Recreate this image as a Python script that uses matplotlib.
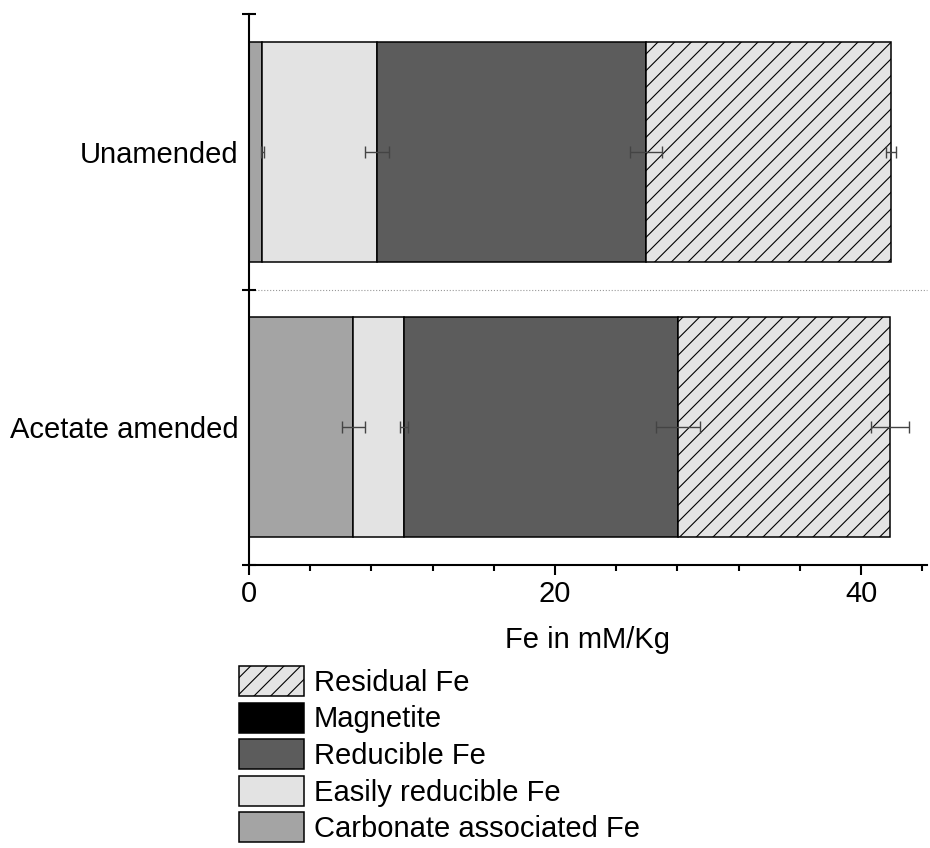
import numpy as np
import matplotlib
matplotlib.use('Agg')
import matplotlib.pyplot as plt

plt.rcParams['font.family'] = ['Liberation Sans', 'DejaVu Sans']
plt.rcParams['hatch.linewidth'] = 0.8

categories = ['Unamended', 'Acetate amended']
carbonate = [0.88, 6.83]
easily = [7.50, 3.30]
reducible = [17.58, 17.90]
magnetite = [0.0, 0.0]
residual = [15.97, 13.87]

carbonate_err = [0.12, 0.77]
easily_err = [0.79, 0.26]
reducible_err = [1.05, 1.43]
magnetite_err = [0.0, 0.0]
residual_err = [0.32, 1.24]

fig = plt.figure(figsize=(9.3, 8.48), dpi=100)
ax = fig.add_axes([0.2677, 0.3337, 0.729, 0.6498])

ypos = np.arange(len(categories)) + 0.5
left = np.zeros(len(categories))
series = [
    ('Carbonate associated Fe', carbonate, carbonate_err, '#a4a4a4', None),
    ('Easily reducible Fe', easily, easily_err, '#e3e3e3', None),
    ('Reducible Fe', reducible, reducible_err, '#5c5c5c', None),
    ('Magnetite', magnetite, magnetite_err, '#000000', None),
    ('Residual Fe', residual, residual_err, '#e4e4e4', '//'),
]
handles = []
for name, vals, errs, col, hatch in series:
    vals = np.array(vals)
    b = ax.barh(ypos, vals, left=left, height=0.8, color=col, edgecolor='black',
                linewidth=1.1, hatch=hatch, label=name, zorder=2)
    handles.append(b)
    left = left + vals
    if np.any(vals > 0):
        ax.errorbar(left, ypos, xerr=errs, fmt='none', ecolor='#444444',
                    elinewidth=1.0, capsize=4, capthick=1.0, zorder=3)

# dotted separator between groups
ax.axhline(1, color='#999999', linestyle=':', linewidth=0.8, zorder=1, clip_on=False)

ax.set_xlim(0, 44.3)
ax.set_ylim(2, 0)
ax.set_xticks([0, 20, 40])
ax.set_xticks(np.arange(0, 45, 4), minor=True)
ax.tick_params(axis='x', which='major', direction='out', length=7, width=1.5,
               labelsize=21, pad=4)
ax.tick_params(axis='x', which='minor', direction='out', length=4, width=1.5)
ax.set_yticks([0, 1, 2])
ax.set_yticklabels([])
ax.set_yticks(ypos, minor=True)
ax.set_yticklabels(categories, minor=True)
ax.tick_params(axis='y', which='major', direction='inout', length=10, width=1.5)
ax.tick_params(axis='y', which='minor', length=0, labelsize=21, pad=7.5)

for s in ['top', 'right']:
    ax.spines[s].set_visible(False)
for s in ['left', 'bottom']:
    ax.spines[s].set_linewidth(1.5)

ax.set_xlabel('Fe in mM/Kg', fontsize=21, labelpad=13)

fig.legend(handles[::-1], [h.get_label() for h in handles[::-1]],
           loc='upper left', bbox_to_anchor=(239 / 930, 1 - 666 / 848),
           frameon=False, fontsize=21, handlelength=2.23, handleheight=1.2,
           labelspacing=0.2, handletextpad=0.33, borderpad=0, borderaxespad=0)

fig.savefig('out.png', dpi=100)
